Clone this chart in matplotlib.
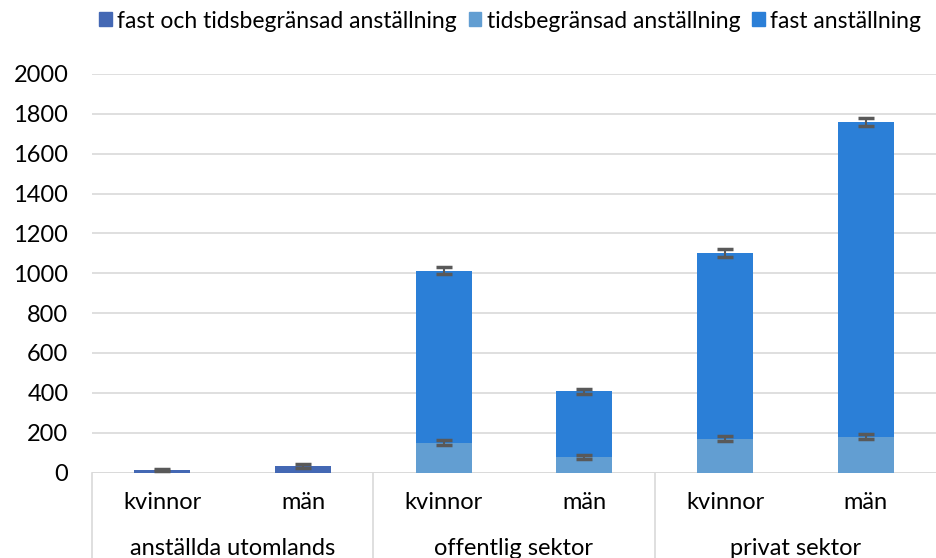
import numpy as np
import matplotlib.pyplot as plt
import matplotlib.transforms as mtransforms
from matplotlib.patches import Patch

plt.rcParams['font.family'] = ['Lato', 'DejaVu Sans']

# data
groups = ["anställda utomlands", "offentlig sektor", "privat sektor"]
subcats = ["kvinnor", "män", "kvinnor", "män", "kvinnor", "män"]
series_names = ["fast och tidsbegränsad anställning", "tidsbegränsad anställning", "fast anställning"]

combined = [13, 32, 0, 0, 0, 0]
combined_err = [7, 9, 0, 0, 0, 0]
tids = [0, 0, 150, 80, 170, 180]
tids_err = [0, 0, 13, 10, 13, 13]
fast = [0, 0, 862, 327, 931, 1577]
total_err = [0, 0, 17, 13, 19, 20]

c_comb = "#4468B4"
c_tids = "#629ED2"
c_fast = "#2B7FD7"
c_err = "#595959"
c_grid = "#D9D9D9"

fig = plt.figure(figsize=(9.36, 5.58), dpi=100)
ax = fig.add_axes([92 / 936, 1 - 472.5 / 558, 1 - 92 / 936, (472.5 - 74) / 558])

x = np.arange(len(subcats))
w = 0.4
comb = np.array(combined, dtype=float)
t = np.array(tids, dtype=float)
f = np.array(fast, dtype=float)

ax.bar(x, comb, w, color=c_comb, zorder=3)
ax.bar(x, t, w, color=c_tids, zorder=3)
ax.bar(x, f, w, bottom=t, color=c_fast, zorder=3)

ekw = dict(fmt="none", ecolor=c_err, elinewidth=1.5, capsize=6, capthick=2.5, zorder=4)
m = comb > 0
ax.errorbar(x[m], comb[m], yerr=np.array(combined_err)[m], **ekw)
m = t > 0
ax.errorbar(x[m], t[m], yerr=np.array(tids_err)[m], **ekw)
ax.errorbar(x[m], (t + f)[m], yerr=np.array(total_err)[m], **ekw)

ax.set_xlim(-0.5, len(subcats) - 0.5)
ax.set_ylim(0, 2000)
ax.set_yticks(np.arange(0, 2001, 200))
ax.yaxis.grid(True, color=c_grid, linewidth=1.2, zorder=0)
ax.tick_params(axis="y", length=0, pad=17, labelsize=17)
ax.set_xticks([])
for s in ax.spines.values():
    s.set_visible(False)
ax.axhline(0, color=c_grid, linewidth=1.2, zorder=2)

# two-level category axis
trans = mtransforms.blended_transform_factory(ax.transData, ax.transAxes)
ax_h = (472.5 - 74)
for i, lab in enumerate(subcats):
    ax.text(i, -30 / ax_h, lab, transform=trans, ha="center", va="center", fontsize=17)
for g, name in enumerate(groups):
    ax.text(2 * g + 0.5, -76 / ax_h, name, transform=trans, ha="center", va="center", fontsize=17)
for xb in [-0.5, 1.5, 3.5]:
    ax.plot([xb, xb], [0, -90 / ax_h], transform=trans, color=c_grid, linewidth=1.2, clip_on=False)

handles = [Patch(color=c) for c in (c_comb, c_tids, c_fast)]
fig.legend(handles, series_names, loc="center", bbox_to_anchor=(0.545, 1 - 21 / 558), ncol=3,
           frameon=False, fontsize=16.5, handlelength=0.55, handleheight=0.55, handletextpad=0.25,
           columnspacing=0.5, borderaxespad=0)

fig.savefig("out.png", dpi=100)
